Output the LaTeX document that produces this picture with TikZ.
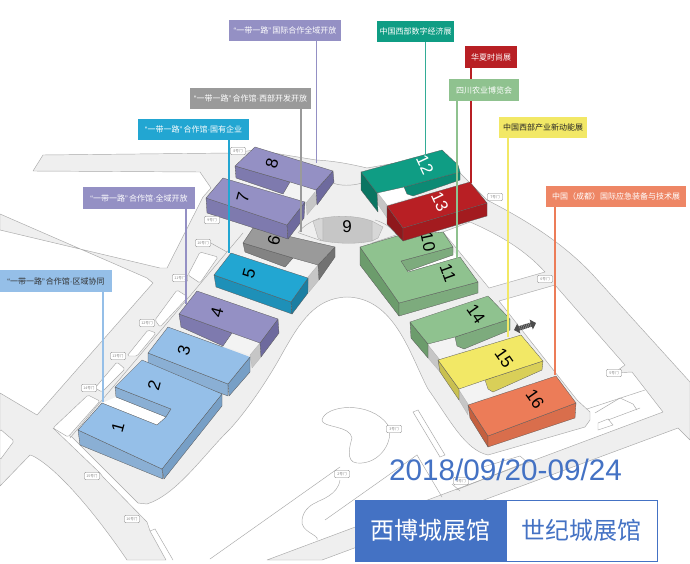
\documentclass[tikz,border=0pt]{standalone}
\usepackage{fontspec}
\setmainfont{Liberation Sans}
\newfontfamily\cjk{Noto Sans CJK SC}
\newfontfamily\latf{Liberation Sans}
\usetikzlibrary{arrows.meta}
\definecolor{roadfill}{HTML}{EFEFEF}
\definecolor{roadline}{HTML}{A8A8A8}
\definecolor{wallgrey}{HTML}{C6C6C6}
\definecolor{gapfill}{HTML}{F3F3F3}
\definecolor{blueT}{HTML}{95BFE8}\definecolor{blueF}{HTML}{8AAFD4}\definecolor{blueR}{HTML}{779FC6}
\definecolor{lavT}{HTML}{9490C4}\definecolor{lavF}{HTML}{7E7AAE}\definecolor{lavR}{HTML}{6E6A9E}
\definecolor{greyT}{HTML}{9A9A9A}\definecolor{greyF}{HTML}{838383}\definecolor{greyR}{HTML}{727272}
\definecolor{cyanT}{HTML}{22A6D2}\definecolor{cyanF}{HTML}{1E90B8}\definecolor{cyanR}{HTML}{1B7EA2}
\definecolor{tealT}{HTML}{0F9D84}\definecolor{tealF}{HTML}{0C8A74}\definecolor{tealR}{HTML}{0A7562}
\definecolor{redT}{HTML}{B81F24}\definecolor{redF}{HTML}{A31B1F}\definecolor{redR}{HTML}{8F181C}
\definecolor{grnT}{HTML}{8FC28F}\definecolor{grnF}{HTML}{7DAB7D}\definecolor{grnR}{HTML}{6C9C6C}
\definecolor{yelT}{HTML}{F2E866}\definecolor{yelF}{HTML}{D9CF58}\definecolor{yelR}{HTML}{C9C050}
\definecolor{orgT}{HTML}{EC7C58}\definecolor{orgF}{HTML}{D96E4C}\definecolor{orgR}{HTML}{C4603F}
\definecolor{lblBlue}{HTML}{4472C4}
\newcommand{\ydyl}{{\latf “}一带一路{\latf ”\,}}
\newcommand{\mdot}{{\latf ·}}
\tikzset{
  x=1pt,y=-1pt,
  road/.style={fill=roadfill,draw=roadline,line width=.45pt,line join=round},
  pocket/.style={fill=white,draw=roadline,line width=.45pt,rounded corners=1.5pt},
  rline/.style={draw=roadline,line width=.45pt,fill=none},
  face/.style={fill=#1,draw=black!65,line width=.3pt,line join=round},
  gapface/.style={fill=gapfill,draw=none},
  wallface/.style={fill=wallgrey,draw=black!30,line width=.25pt},
  door/.style={draw=gray,fill=white,line width=.4pt,rounded corners=1.2pt,minimum width=15pt,minimum height=7.5pt,inner sep=0pt,text=gray,font=\cjk\fontsize{3.6}{4}\selectfont},
  num/.style={font=\fontsize{17}{18}\selectfont,inner sep=0pt,text=#1},
  num/.default=black,
  lab/.style={fill=#1,inner sep=0pt,text=white,font=\cjk\fontsize{8}{9}\selectfont},
  conn/.style={draw=#1,line width=1.7pt}
}
\begin{document}
\begin{tikzpicture}
\useasboundingbox (0,0) rectangle (690,564);
\fill[white] (0,0) rectangle (690,564);
\begin{scope}
\clip (0,0) rectangle (690,564);
% road and pad network
\path[road] (43,155) -- (232,153) -- (255,150) -- (316,160) .. controls (335,161) and (350,164) .. (367,168) -- (442,155)
  -- (487,200) .. controls (530,222) and (565,245) .. (593,275) -- (690,382) -- (690,440) -- (678,428) -- (322,560) -- (267,560)
  -- (663,412) -- (632,372) -- (614,373) -- (625,365) -- (555,285) -- (499,301) -- (577,400) -- (590,412) -- (590,420) -- (585,427)
  -- (488,455) .. controls (465,450) and (450,420) .. (428,389) .. controls (410,355) and (395,298) .. (347,297)
  .. controls (315,298) and (300,322) .. (282,354) .. controls (265,385) and (240,420) .. (225,434)
  .. controls (200,460) and (175,495) .. (147,504) -- (138,503) -- (72,437) -- (53,428) -- (100,473) -- (103,477) -- (147,522)
  -- (150,531) -- (166,560) -- (127,560) .. controls (100,520) and (60,470) .. (33,456) -- (30,455) -- (0,486) -- (0,393)
  -- (37,415) -- (153,283) -- (147,278) -- (0,214) -- (0,230) -- (160,268) -- (167,268) -- (203,197) -- (211,188) -- (200,172) -- (33,171) -- cycle;
% white pockets
\path[pocket] (200,252) -- (218,257) -- (200,283) -- (188,275) -- cycle;
\path[pocket] (177,290) -- (188,297) -- (160,327) -- (155,320) -- cycle;
\path[pocket] (148,330) -- (156,333) -- (137,356) -- (127,356) -- cycle;
\path[pocket] (117,362) -- (125,369) -- (102,392) -- (95,388) -- cycle;
\path[pocket] (88,395) -- (100,401) -- (68,437) -- (53,428) -- cycle;
\path[pocket] (0,429) -- (14,441) -- (0,460) -- cycle;
\path[fill=white,draw=roadline,line width=.45pt] (489,288) -- (545,272) .. controls (525,250) and (500,235) .. (470,222) -- (443,232) -- cycle;
\path[rline] (243,233) -- (70,438);
\path[rline] (209,242) -- (227,252);
\path[rline] (333,183) .. controls (340,186) and (352,186) .. (362,183);
\path[rline] (298,233) .. controls (303,226) and (310,222) .. (320,218);
\path[rline] (397,235) .. controls (392,228) and (385,223) .. (375,220);
\path[rline] (299,233) -- (322,241);
\path[rline] (396,235) -- (372,243);
% park lines
\path[rline] (322,420) .. controls (325,405) and (370,400) .. (388,425) .. controls (395,440) and (380,465) .. (357,463)
  .. controls (345,462) and (350,445) .. (352,438) .. controls (350,425) and (322,428) .. (322,420) -- cycle;
\path[rline] (413,412) -- (418,410) -- (445,455) -- (440,457) -- cycle;
\path[rline] (210,559) -- (340,467);
\path[rline] (340,480) .. controls (338,495) and (320,500) .. (317,502) .. controls (308,506) and (303,512) .. (302,520) .. controls (300,532) and (320,535) .. (317,540);
\path[rline] (325,520) -- (417,455) -- (442,497);
\path[rline] (150,531) -- (155,529) -- (173,560);
% lower right details
\path[rline] (587,409) -- (645,390);
\path[rline] (595,413) -- (620,398) -- (633,404) -- (637,410);
\path[rline] (598,430) -- (613,425) -- (608,419) -- (598,423) -- cycle;
\path[rline] (608,420) -- (640,408);
\path[rline] (456,490) -- (527,462) -- (520,456) -- (483,467);
\path[rline] (452,484) -- (460,491);
% hall 9
\path[face={wallgrey!70!white},draw=roadline] (313,221) -- (323,218) -- (323,241) -- (318,238) -- cycle;
\path[face={wallgrey!70!white},draw=roadline] (372,221) -- (383,227) -- (378,238) -- (372,241) -- cycle;
\path[face=wallgrey,draw=roadline] (323,218) .. controls (340,215) and (358,216) .. (372,221) -- (372,241) .. controls (358,244) and (340,244) .. (323,241) -- cycle;
\node[num] (n9) at (347,227) {9};
% hall 8
\path[gapface] (236,178) -- (283,194) -- (290,182) -- (316,190) -- (306,203) -- (223,178) -- cycle;
\path[wallface] (315,192) -- (317,203) -- (307,215) -- (306,203) -- cycle;
\path[face=lavF] (235,166) -- (236,178) -- (283,194) -- (290,182) -- cycle;
\path[face=lavR] (333,171) -- (334,182) -- (317,205) -- (316,190) -- cycle;
\path[face=lavT] (235,166) -- (255,147) -- (333,171) -- (316,190) -- (290,182) -- cycle;
\node[num,rotate=75] (n8) at (272,163) {8};
% hall 6
\path[gapface] (245,252) -- (285,267) -- (293,258) -- (318,265) -- (308,278) -- (240,256) -- cycle;
\path[wallface] (318,265) -- (319,280) -- (309,292) -- (308,277) -- cycle;
\path[face=greyF] (243,243) -- (245,252) -- (285,267) -- (293,258) -- cycle;
\path[face=greyR] (335,247) -- (335,257) -- (319,280) -- (318,265) -- cycle;
\path[face=greyT] (243,243) -- (253,228) -- (335,247) -- (318,265) -- (293,258) -- cycle;
\node[num,rotate=75] (n6) at (274,240) {6};
% hall 7
\path[face=lavF] (206,198) -- (207,213) -- (288,239) -- (287,225) -- cycle;
\path[face=lavR] (305,202) -- (304,218) -- (288,239) -- (287,225) -- cycle;
\path[face=lavT] (206,198) -- (223,178) -- (305,202) -- (287,225) -- cycle;
\node[num,rotate=75] (n7) at (243,197) {7};
% hall 5
\path[face=cyanF] (214,275) -- (216,287) -- (292,314) -- (291,302) -- cycle;
\path[face=cyanR] (308,278) -- (308,293) -- (292,314) -- (291,302) -- cycle;
\path[face=cyanT] (214,275) -- (231,253) -- (308,278) -- (291,302) -- cycle;
\node[num,rotate=75] (n5) at (249,273) {5};
% hall 4
\path[gapface] (223,346) -- (232,334) -- (260,343) -- (250,355) -- cycle;
\path[wallface] (260,343) -- (261,357) -- (252,368) -- (250,355) -- cycle;
\path[face=lavF] (179,314) -- (181,327) -- (223,346) -- (232,333) -- cycle;
\path[face=lavR] (278,319) -- (279,333) -- (261,357) -- (260,343) -- cycle;
\path[face=lavT] (179,314) -- (197,291) -- (278,319) -- (260,343) -- (232,333) -- cycle;
\node[num,rotate=75] (n4) at (217,312) {4};
% hall 3
\path[face=blueF] (148,353) -- (148,366) -- (228,396) -- (228,384) -- cycle;
\path[face=blueR] (250,357) -- (250,372) -- (229,396) -- (228,384) -- cycle;
\path[fill=blueT,draw=none] (148,353) -- (168,327) -- (223,347) -- (250,357) -- (228,384) -- cycle;
\path[draw=black!65,line width=.3pt] (250,357) -- (228,384) -- (148,353) -- (168,327) -- (223,347);
\node[num,rotate=75] (n3) at (184,350) {3};
% halls 1 and 2
\path[fill=white] (102,403) -- (116,397) -- (166,417) -- (158,425) -- cycle;
\path[face=blueF] (78,430) -- (80,445) -- (163,479) -- (162,469) -- cycle;
\path[face=blueR] (222,394) -- (222,406) -- (164,479) -- (162,469) -- cycle;
\path[face=blueF] (115,387) -- (116,397) -- (166,417) -- (171,409) -- cycle;
\path[face=blueT] (78,430) -- (102,403) -- (157,425) -- (166,417) -- (171,409) -- (115,387) -- (142,360) -- (222,394) -- (162,469) -- cycle;
\node[num,rotate=75] (n2) at (154,385) {2};
\node[num,rotate=75] (n1) at (118,427) {1};
% hall 12
\path[fill=white] (377,192) -- (404,185) -- (413,197) -- (387,205) -- cycle;
\path[wallface] (377,192) -- (387,205) -- (387,218) -- (377,203) -- cycle;
\path[face=tealR] (361,172) -- (361,190) -- (378,212) -- (377,193) -- cycle;
\path[face=tealF] (404,187) -- (407,194) -- (413,196) -- (460,180) -- (460,172) -- cycle;
\path[face=tealT] (361,172) -- (442,150) -- (458,165) -- (460,172) -- (404,187) -- (377,193) -- cycle;
\node[num=white,rotate=-65] (n12) at (425,165) {12};
% halls 10 and 11
\path[fill=white] (403,267) -- (453,252) -- (460,257) -- (408,272) -- cycle;
\path[face=grnR] (360,247) -- (360,265) -- (399,316) -- (399,303) -- cycle;
\path[face=grnF] (399,303) -- (399,316) -- (478,293) -- (478,282) -- cycle;
\path[face=grnF] (401,261) -- (403,268) -- (408,271) -- (453,255) -- (453,247) -- cycle;
\path[face=grnT] (360,247) -- (397,236) -- (443,232) -- (453,247) -- (401,261) -- (408,272) -- (460,257) -- (478,282) -- (399,303) -- cycle;
\node[num,rotate=-78] (n10) at (428,242) {10};
\node[num,rotate=-70] (n11) at (448,273) {11};
% hall 13
\path[face=redR] (387,206) -- (387,224) -- (403,241) -- (403,228) -- cycle;
\path[face=redF] (403,228) -- (403,241) -- (487,216) -- (487,203) -- cycle;
\path[face=redT] (387,206) -- (470,182) -- (487,203) -- (403,228) -- cycle;
\node[num=white,rotate=-65] (n13) at (440,202) {13};
% hall 14
\path[gapface] (428,344) -- (455,337) -- (464,350) -- (440,360) -- cycle;
\path[wallface] (428,345) -- (440,360) -- (440,372) -- (428,358) -- cycle;
\path[face=grnR] (410,322) -- (411,338) -- (428,358) -- (428,344) -- cycle;
\path[face=grnF] (455,337) -- (457,346) -- (464,349) -- (510,330) -- (510,319) -- cycle;
\path[face=grnT] (410,322) -- (488,296) -- (510,319) -- (455,337) -- (428,344) -- cycle;
\node[num,rotate=-55] (n14) at (476,314) {14};
% hall 15
\path[gapface] (459,389) -- (485,380) -- (493,395) -- (468,404) -- cycle;
\path[wallface] (459,390) -- (468,404) -- (468,415) -- (459,400) -- cycle;
\path[face=yelR] (438,360) -- (440,372) -- (459,400) -- (459,389) -- cycle;
\path[face=yelF] (485,380) -- (488,389) -- (493,392) -- (542,370) -- (543,361) -- cycle;
\path[face=yelT] (438,360) -- (521,335) -- (543,361) -- (485,380) -- (459,389) -- cycle;
\node[num,rotate=-55] (n15) at (504,358) {15};
% hall 16
\path[face=orgR] (468,405) -- (470,418) -- (488,447) -- (488,436) -- cycle;
\path[face=orgF] (488,436) -- (488,447) -- (575,418) -- (576,403) -- cycle;
\path[face=orgT] (468,405) -- (556,376) -- (576,403) -- (488,436) -- cycle;
\node[num,rotate=-55] (n16) at (535,399) {16};
% direction marker
\coordinate (arA) at (514,330);
\coordinate (arB) at (536,323);
\draw[{Triangle[length=5pt,width=10pt]}-{Triangle[length=5pt,width=10pt]},draw=black!70,fill=black!70,line width=4.5pt,dash pattern=on 1.3pt off .5pt] (arA) -- (arB);
% doors
\node[door] (d8) at (238,151) {8号门};
\node[door] (d9) at (212,220) {9号门};
\node[door] (d10) at (203,243) {10号门};
\node[door] (d11) at (180,278) {11号门};
\node[door] (d12) at (147,323) {12号门};
\node[door] (d13) at (118,356) {13号门};
\node[door] (d14) at (89,388) {14号门};
\node[door] (d15) at (92,476) {15号门};
\node[door] (d16) at (132,519) {16号门};
\node[door] (d7) at (495,197) {7号门};
\node[door] (d6) at (545,279) {6号门};
\node[door] (d5) at (614,373) {5号门};
\node[door] (d4) at (461,481) {4号门};
\node[door] (d3) at (394,429) {3号门};
\node[door] (d2) at (342,474) {2号门};
% connector ends
\coordinate (e1) at (103,402);
\coordinate (e2) at (186,304);
\coordinate (e3) at (229,253);
\coordinate (e4) at (301,232);
\coordinate (e5) at (316.5,163);
\coordinate (e6) at (425.5,155);
\coordinate (e7) at (471,183);
\coordinate (e8) at (457,258);
\coordinate (e9) at (508,337);
\coordinate (e10) at (555,375);
% labels
\node[lab=blueT,minimum width=112pt,minimum height=22pt,text=black!80] (l1) at (56,281) {\ydyl 合作馆\mdot 区域协同};
\node[lab=lavT,minimum width=112pt,minimum height=22pt] (l2) at (139,198) {\ydyl 合作馆\mdot 全域开放};
\node[lab=cyanT,minimum width=111pt,minimum height=21pt] (l3) at (193.5,129.5) {\ydyl 合作馆\mdot 国有企业};
\node[lab=greyT,minimum width=121pt,minimum height=21pt] (l4) at (250.5,98.5) {\ydyl 合作馆\mdot 西部开发开放};
\node[lab=lavT,minimum width=112pt,minimum height=21pt] (l5) at (285,30.5) {\ydyl 国际合作全域开放};
\node[lab=tealT,minimum width=77pt,minimum height=21pt] (l6) at (415.5,31.5) {中国西部数字经济展};
\node[lab=redT,minimum width=52pt,minimum height=22pt] (l7) at (491,57) {华夏时尚展};
\draw[conn=redT] (l7.south -| e7) -- (e7);
\node[lab=grnT,minimum width=70pt,minimum height=22pt] (l8) at (484,90) {四川农业博览会};
\node[lab=yelT,minimum width=88pt,minimum height=21pt,text=black!85] (l9) at (543,127.5) {中国西部产业新动能展};
\node[lab=orgT!92!white,minimum width=140pt,minimum height=21pt] (l10) at (616,196.5) {中国（成都）国际应急装备与技术展};
\draw[conn=blueT] (l1.south -| e1) -- (e1);
\draw[conn=lavT] (l2.south -| e2) -- (e2);
\draw[conn=cyanT] (l3.south -| e3) -- (e3);
\draw[conn=greyT] (l4.south -| e4) -- (e4);
\draw[conn=lavT] (l5.south -| e5) -- (e5);
\draw[conn=tealT!85!white] (l6.south -| e6) -- (e6);
\draw[conn=grnT] (l8.south -| e8) -- (e8);
\draw[conn=yelT] (l9.south -| e9) -- (e9);
\draw[conn=orgT] (l10.south -| e10) -- (e10);
% date and switch
\node[inner sep=0pt,text=lblBlue,font=\fontsize{29.7}{32}\selectfont] (date) at (505.5,470) {2018/09/20-09/24};
\node[fill=lblBlue,draw=lblBlue,line width=.8pt,minimum width=151pt,minimum height=61pt,inner sep=0pt,text=white,font=\cjk\fontsize{24}{26}\selectfont] (bx1) at (430.5,530.5) {西博城展馆};
\node[fill=white,draw=lblBlue,line width=.8pt,minimum width=151pt,minimum height=61pt,inner sep=0pt,text=lblBlue,font=\cjk\fontsize{24}{26}\selectfont] (bx2) at (581.5,530.5) {世纪城展馆};
\end{scope}
\end{tikzpicture}
\end{document}
